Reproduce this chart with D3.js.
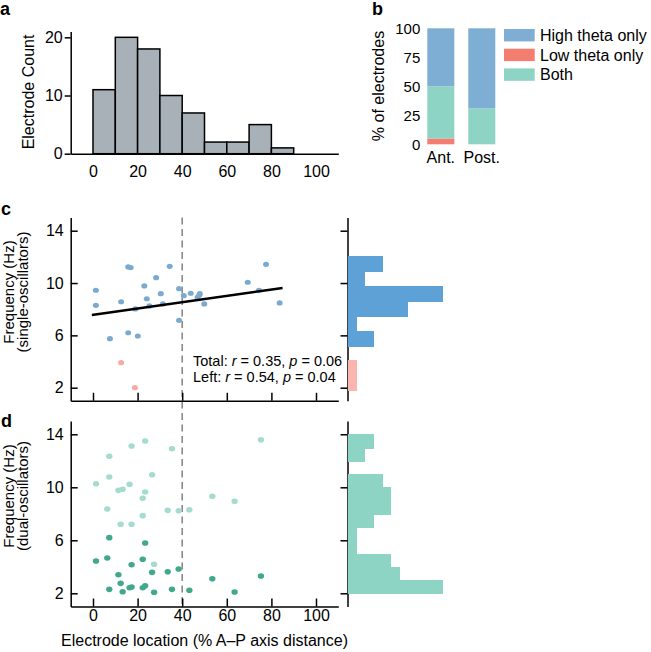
<!DOCTYPE html>
<html><head><meta charset="utf-8">
<script src="https://cdn.jsdelivr.net/npm/d3@7"></script>
<style>
body{margin:0;background:#fff}
svg{display:block;font-family:"Liberation Sans",Arial,Helvetica,sans-serif}
</style>
</head><body>
<svg id="chart" width="651" height="652"></svg>
<script>
// ---------- DATA ----------
// Panel a: electrode count histogram
const locBinStarts = [0, 10, 20, 30, 40, 50, 60, 70, 80];
const locBinWidth = 10;
const locCounts = [11, 20, 18, 10, 7, 2, 2, 5, 1];
const locationTicks = [0, 20, 40, 60, 80, 100];
const countTicks = [0, 10, 20];

// Panel b: % of electrodes
const regionCategories = ["Ant.", "Post."];
const oscTypes = ["High theta only", "Low theta only", "Both"];
const highThetaPct = [50, 69];
const lowThetaPct = [5, 0];
const bothPct = [45, 31];
const pctTicks = [0, 25, 50, 75, 100];

// Panel c: single oscillators
const singleHighLoc = [1.3, 1.3, 7.6, 12.6, 15.8, 16.9, 15.8, 19.0, 20.1, 23.0, 24.1, 25.3, 28.3, 30.4, 31.3, 34.4, 38.6, 38.6, 40.7, 43.8, 46.9, 47.6, 47.9, 49.9, 69.4, 74.4, 77.6, 83.7];
const singleHighFreq = [9.45, 8.30, 5.75, 8.57, 11.23, 11.18, 6.20, 8.02, 5.95, 9.78, 8.80, 8.25, 10.41, 9.19, 8.40, 11.28, 9.57, 7.15, 9.03, 9.22, 8.91, 9.06, 9.19, 8.40, 10.06, 9.45, 11.43, 8.48];
const singleLowLoc = [12.6, 18.8];
const singleLowFreq = [3.91, 2.0];
const fitLoc = [-0.5, 85];
const fitFreq = [7.56, 9.62];
const freqTicks = [2, 6, 10, 14];
const singleHistEdges = [1.8, 2.94, 4.08, 5.22, 6.36, 7.5, 8.64, 9.78, 10.92, 12.06];
const singleHistHigh = [0, 0, 0, 3, 1, 7, 11, 2, 4];
const singleHistLow = [1, 1, 0, 0, 0, 0, 0, 0, 0];
const statLines = [["Total", "0.35", "0.06"], ["Left", "0.54", "0.04"]];

// Panel d: dual oscillators
const dualLoc = [1.35, 6.4, 7.3, 7.3, 11.4, 12.4, 13.3, 16.4, 17.3, 17.3, 22.3, 22.3, 23.4, 23.4, 26.5, 27.4, 33.5, 35.4, 38.4, 43.2, 53.5, 63.5, 75.3];
const dualHighFreq = [10.27, 8.36, 12.34, 10.78, 9.77, 7.21, 9.85, 10.23, 13.12, 7.21, 9.17, 7.86, 13.49, 9.65, 10.95, 4.19, 8.26, 12.91, 8.23, 8.31, 9.32, 8.95, 13.59];
const dualLowFreq = [4.44, 4.66, 6.20, 2.30, 3.40, 2.75, 2.12, 2.42, 4.16, 2.48, 4.57, 2.42, 5.80, 2.57, 3.58, 2.08, 3.63, 2.30, 3.83, 2.23, 3.10, 2.10, 3.31];
const dualHistEdges = [2, 3, 4, 5, 6, 7, 8, 9, 10, 11, 12, 13, 14];
const dualHistCounts = [11, 6, 5, 1, 1, 3, 5, 5, 4, 0, 2, 3];
const boundaryLoc = 40;

// ---------- STYLE ----------
const C = {
  grayBar: "#a7b1b7",
  high: "#7eaed3", low: "#f37d6e", both: "#8dd4c4",
  cPt: "#7aaad0", cPtLow: "#f6aba4",
  cHist: "#5ea1d6", cHistLow: "#f9b5ae",
  dLight: "#a6dbcf", dDark: "#41a88c", dHist: "#8ed4c4"
};
const svg = d3.select("#chart");
const FS = 16;

function styleAxis(g, fs) {
  g.selectAll("text").attr("font-size", fs).attr("fill", "#000").attr("font-family", null);
  g.selectAll("line").attr("stroke", "#000").attr("stroke-width", 1.5);
  g.selectAll("path.domain").attr("stroke", "#000").attr("stroke-width", 1.5);
}

// shared location scale
const x = d3.scaleLinear().domain([-10, 110]).range([70.7, 338.3]);

// ---------- PANEL A ----------
const yA = d3.scaleLinear().domain([0, 21]).range([153.7, 31.5]);
svg.append("g").selectAll("rect").data(locCounts).join("rect")
  .attr("x", (d, i) => x(locBinStarts[i]))
  .attr("width", (d, i) => x(locBinStarts[i] + locBinWidth) - x(locBinStarts[i]))
  .attr("y", d => yA(d))
  .attr("height", d => yA(0) - yA(d))
  .attr("fill", C.grayBar).attr("stroke", "#000").attr("stroke-width", 1.5);
svg.append("g").attr("transform", `translate(0,${yA(0)})`)
  .call(d3.axisBottom(x).tickValues(locationTicks).tickSize(0).tickPadding(12))
  .call(g => styleAxis(g, FS));
svg.append("g").attr("transform", `translate(${x(-10)},0)`)
  .call(d3.axisLeft(yA).tickValues(countTicks).tickSizeInner(6).tickSizeOuter(0).tickPadding(2))
  .call(g => styleAxis(g, FS));
svg.append("text").attr("transform", `translate(34,92) rotate(-90)`)
  .attr("text-anchor", "middle").attr("font-size", FS).text("Electrode Count");

// ---------- PANEL B ----------
const xB = d3.scaleBand().domain(regionCategories).range([427.3, 495.3]).paddingInner(0.34).paddingOuter(0);
const yB = d3.scaleLinear().domain([0, 100]).range([144.3, 28.3]);
const bRows = regionCategories.map((c, i) => ({
  cat: c, "High theta only": highThetaPct[i], "Low theta only": lowThetaPct[i], "Both": bothPct[i]
}));
const stackKeys = ["Low theta only", "Both", "High theta only"];
const colorB = d3.scaleOrdinal().domain(oscTypes).range([C.high, C.low, C.both]);
const stacked = d3.stack().keys(stackKeys)(bRows);
svg.append("g").selectAll("g").data(stacked).join("g")
  .attr("fill", s => colorB(s.key))
  .selectAll("rect").data(s => s).join("rect")
  .attr("x", d => xB(d.data.cat)).attr("width", xB.bandwidth())
  .attr("y", d => yB(d[1])).attr("height", d => yB(d[0]) - yB(d[1]));
svg.append("g").attr("transform", `translate(427.3,0)`)
  .call(d3.axisLeft(yB).tickValues(pctTicks).tickSize(0).tickPadding(7))
  .call(g => { styleAxis(g, 15); g.select(".domain").remove(); });
svg.append("g").attr("transform", `translate(0,${yB(0)})`)
  .call(d3.axisBottom(xB).tickSize(0).tickPadding(7))
  .call(g => { styleAxis(g, FS); g.select(".domain").remove(); });
svg.append("text").attr("transform", `translate(384,86) rotate(-90)`)
  .attr("text-anchor", "middle").attr("font-size", FS).text("% of electrodes");
const leg = svg.append("g").selectAll("g").data(oscTypes).join("g")
  .attr("transform", (d, i) => `translate(504,${29 + i * 19.7})`);
leg.append("rect").attr("width", 30.7).attr("height", 12.4).attr("fill", d => colorB(d));
leg.append("text").attr("x", 36).attr("y", 12).attr("font-size", FS).text(d => d);

// ---------- PANEL C / D helpers ----------
const xH = d3.scaleLinear().domain([0, 11]).range([348, 443]);
function freqPanel(yTop0, yBottom2) {
  // 14 at yTop0, 2 at yBottom2
  const k = (yBottom2 - yTop0) / 12;
  return d3.scaleLinear().domain([1, 15]).range([yBottom2 + k, yTop0 - k]);
}
const yC = freqPanel(230.7, 387.7);
const yD = freqPanel(434.3, 593.3);

function scatterAxes(yS, showLabels) {
  svg.append("g").attr("transform", `translate(0,${yS(1)})`)
    .call(d3.axisBottom(x).tickValues(locationTicks).tickSizeInner(-8).tickSizeOuter(0).tickPadding(3)
      .tickFormat(showLabels ? d3.format("d") : () => ""))
    .call(g => styleAxis(g, FS));
  svg.append("g").attr("transform", `translate(${x(-10)},0)`)
    .call(d3.axisLeft(yS).tickValues(freqTicks).tickSizeInner(-7).tickSizeOuter(0).tickPadding(7))
    .call(g => styleAxis(g, FS));
  // histogram axis
  svg.append("g").attr("transform", `translate(347.5,0)`)
    .call(d3.axisLeft(yS).tickValues(freqTicks).tickSizeInner(7).tickSizeOuter(0).tickFormat(() => ""))
    .call(g => styleAxis(g, FS));
}

// dashed boundary line (behind points)
svg.append("line").attr("x1", x(boundaryLoc)).attr("x2", x(boundaryLoc))
  .attr("y1", yC(15)).attr("y2", yD(1))
  .attr("stroke", "#8a8a8a").attr("stroke-width", 1.6).attr("stroke-dasharray", "7,4.5");

// ---------- PANEL C ----------
scatterAxes(yC, false);
svg.append("g").selectAll("ellipse").data(singleHighFreq).join("ellipse")
  .attr("cx", (d, i) => x(singleHighLoc[i])).attr("cy", d => yC(d))
  .attr("rx", 3).attr("ry", 2.6).attr("fill", C.cPt);
svg.append("g").selectAll("ellipse").data(singleLowFreq).join("ellipse")
  .attr("cx", (d, i) => x(singleLowLoc[i])).attr("cy", d => yC(d))
  .attr("rx", 3).attr("ry", 2.6).attr("fill", C.cPtLow);
svg.append("path").datum(fitLoc.map((v, i) => [v, fitFreq[i]]))
  .attr("d", d3.line().x(d => x(d[0])).y(d => yC(d[1])))
  .attr("stroke", "#000").attr("stroke-width", 2.5).attr("fill", "none");
// stats text
const st = svg.append("g").selectAll("text").data(statLines).join("text")
  .attr("x", 193).attr("y", (d, i) => 366 + i * 16).attr("font-size", 14.5);
st.append("tspan").text(d => d[0] + ": ");
st.append("tspan").attr("font-style", "italic").text("r");
st.append("tspan").text(d => " = " + d[1] + ", ");
st.append("tspan").attr("font-style", "italic").text("p");
st.append("tspan").text(d => " = " + d[2]);
// histogram bars
function histBars(edges, counts, yS, color) {
  svg.append("g").attr("shape-rendering", "crispEdges")
    .selectAll("rect").data(counts).join("rect")
    .attr("x", xH(0))
    .attr("y", (d, i) => Math.round(yS(edges[i + 1])))
    .attr("height", (d, i) => Math.round(yS(edges[i])) - Math.round(yS(edges[i + 1])) + 1)
    .attr("width", d => xH(d) - xH(0))
    .attr("fill", color);
}
histBars(singleHistEdges, singleHistHigh, yC, C.cHist);
histBars(singleHistEdges, singleHistLow, yC, C.cHistLow);

// ---------- PANEL D ----------
scatterAxes(yD, true);
svg.append("g").selectAll("ellipse").data(dualHighFreq).join("ellipse")
  .attr("cx", (d, i) => x(dualLoc[i])).attr("cy", d => yD(d))
  .attr("rx", 3.2).attr("ry", 2.8).attr("fill", C.dLight);
svg.append("g").selectAll("ellipse").data(dualLowFreq).join("ellipse")
  .attr("cx", (d, i) => x(dualLoc[i])).attr("cy", d => yD(d))
  .attr("rx", 3.2).attr("ry", 2.8).attr("fill", C.dDark);
histBars(dualHistEdges, dualHistCounts, yD, C.dHist);

// axis titles
function freqTitle(yc, sub) {
  const t = svg.append("text").attr("transform", `translate(0,${yc}) rotate(-90)`)
    .attr("text-anchor", "middle").attr("font-size", 15);
  t.append("tspan").attr("x", 0).attr("y", 13.5).text("Frequency (Hz)");
  t.append("tspan").attr("x", 0).attr("y", 27.5).text(sub);
}
freqTitle(292, "(single-oscillators)");
freqTitle(496, "(dual-oscillators)");
svg.append("text").attr("x", x(50)).attr("y", 646).attr("text-anchor", "middle")
  .attr("font-size", FS).text("Electrode location (% A\u2013P axis distance)");

// panel letters
[["a", 0, 15], ["b", 372, 15], ["c", 1, 215], ["d", 1, 427]].forEach(([l, lx, ly]) =>
  svg.append("text").attr("x", lx).attr("y", ly).attr("font-size", 18).attr("font-weight", "bold").text(l));
</script>
</body></html>
